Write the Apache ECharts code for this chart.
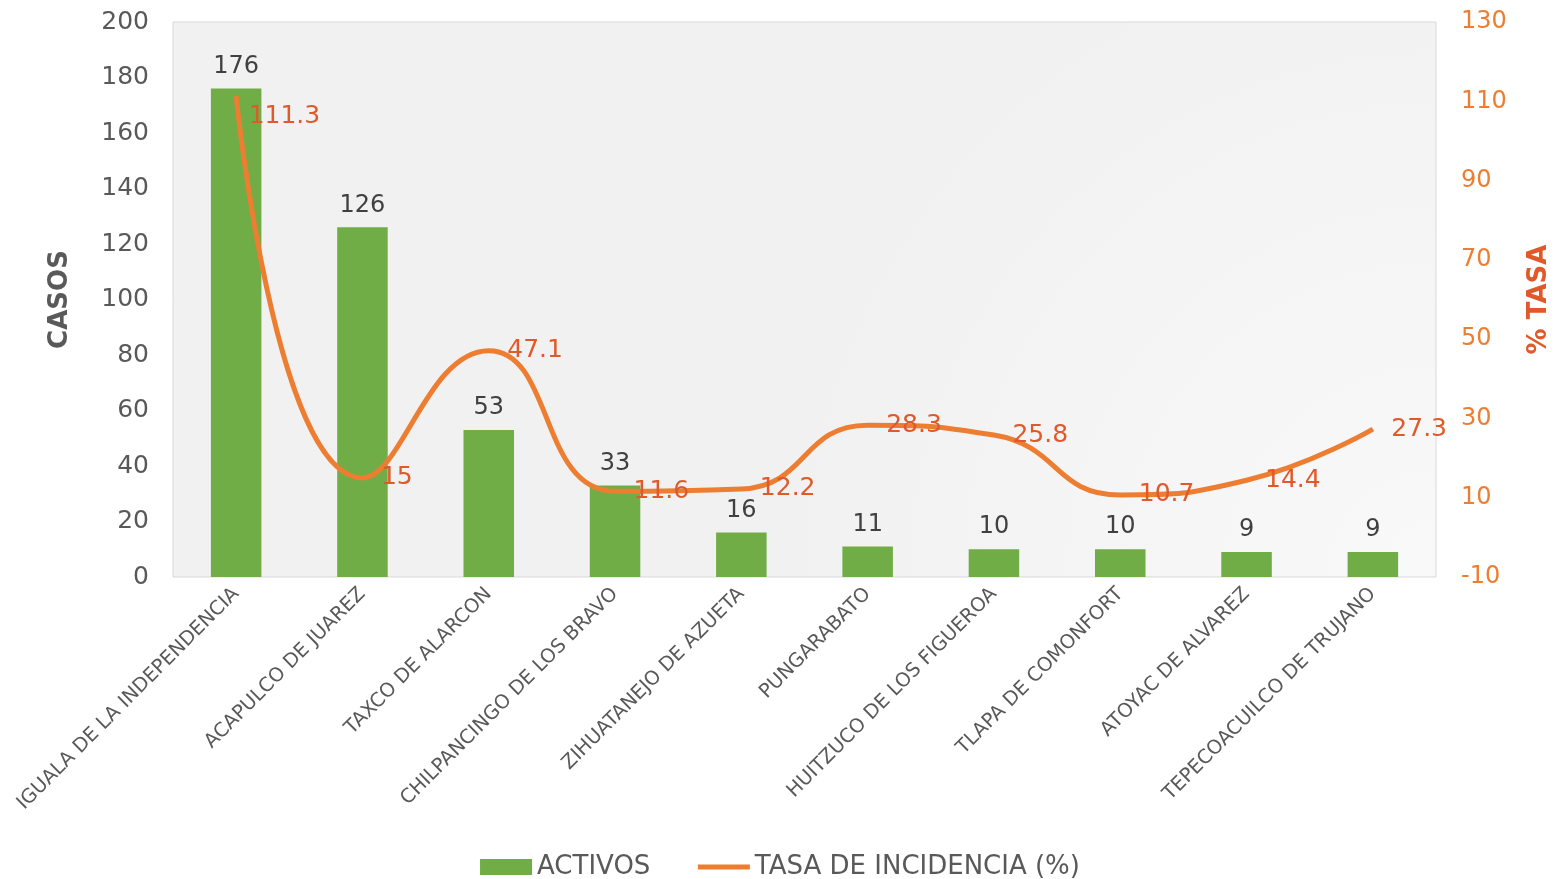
<!DOCTYPE html>
<html>
<head>
<meta charset="utf-8">
<script src="https://cdn.jsdelivr.net/npm/echarts@6/dist/echarts.min.js"></script>
<style>
html, body { margin: 0; padding: 0; background: #fff; }
#chart { width: 1560px; height: 879px; }
</style>
</head>
<body>
<div id="chart"></div>
<script>
var municipios = ['IGUALA DE LA INDEPENDENCIA', 'ACAPULCO DE JUAREZ', 'TAXCO DE ALARCON',
    'CHILPANCINGO DE LOS BRAVO', 'ZIHUATANEJO DE AZUETA', 'PUNGARABATO',
    'HUITZUCO DE LOS FIGUEROA', 'TLAPA DE COMONFORT', 'ATOYAC DE ALVAREZ', 'TEPECOACUILCO DE TRUJANO'];
var activos = [176, 126, 53, 33, 16, 11, 10, 10, 9, 9];
var tasa = [111.3, 15, 47.1, 11.6, 12.2, 28.3, 25.8, 10.7, 14.4, 27.3];

var chart = echarts.init(document.getElementById('chart'));
var fuente = '"DejaVu Sans", sans-serif';

// la etiqueta del primer punto va un poco mas abajo, como en el original
var tasaData = tasa.map(function (v, i) {
    if (i === 0) {
        return { value: v, label: { offset: [-6, 20] } };
    }
    return v;
});

var option = {
    animation: false,
    textStyle: { fontFamily: fuente },
    grid: {
        left: 173, right: 118, top: 22, bottom: 302,
        show: true,
        borderColor: '#d9d9d9',
        borderWidth: 1,
        backgroundColor: new echarts.graphic.RadialGradient(1, 1, 1.2, [
            { offset: 0, color: '#f9f9f9' },
            { offset: 1, color: '#f1f1f1' }
        ])
    },
    legend: {
        top: 849,
        left: 'center',
        itemGap: 45,
        itemWidth: 52,
        itemHeight: 16,
        textStyle: { fontSize: 26, color: '#595959', fontFamily: fuente },
        data: [
            { name: 'ACTIVOS', icon: 'rect' },
            { name: 'TASA DE INCIDENCIA (%)', itemStyle: { opacity: 0 }, lineStyle: { width: 5 } }
        ]
    },
    xAxis: {
        type: 'category',
        data: municipios,
        axisLine: { show: false },
        axisTick: { show: false },
        axisLabel: {
            rotate: 45,
            interval: 0,
            fontSize: 19.5,
            color: '#595959',
            margin: 14
        }
    },
    yAxis: [{
        type: 'value',
        min: 0, max: 200, interval: 20,
        name: 'CASOS',
        nameLocation: 'middle',
        nameGap: 100,
        nameRotate: 90,
        nameTextStyle: { fontSize: 26, color: '#595959', fontWeight: 'bold' },
        splitLine: { show: false },
        axisLine: { show: false },
        axisTick: { show: false },
        axisLabel: { fontSize: 25, color: '#595959', margin: 24 }
    }, {
        type: 'value',
        min: -10, max: 130, interval: 20,
        name: '% TASA',
        nameLocation: 'middle',
        nameGap: 90,
        nameRotate: 90,
        nameTextStyle: { fontSize: 26, color: '#E0592A', fontWeight: 'bold' },
        splitLine: { show: false },
        axisLine: { show: false },
        axisTick: { show: false },
        axisLabel: { fontSize: 24, color: '#ED7D31', margin: 25 }
    }],
    series: [{
        name: 'ACTIVOS',
        type: 'bar',
        data: activos,
        barWidth: '40%',
        itemStyle: { color: '#70AD47' },
        label: {
            show: true,
            position: 'top',
            distance: 10,
            fontSize: 24,
            color: '#404040'
        }
    }, {
        name: 'TASA DE INCIDENCIA (%)',
        type: 'line',
        yAxisIndex: 1,
        data: tasaData,
        smooth: 0.5,
        symbol: 'circle',
        symbolSize: 1,
        lineStyle: { color: '#ED7D31', width: 5 },
        itemStyle: { color: '#ED7D31' },
        label: {
            show: true,
            position: 'right',
            distance: 18,
            fontSize: 25,
            color: '#E0592A'
        },
        z: 5
    }]
};
chart.setOption(option);
</script>
</body>
</html>
